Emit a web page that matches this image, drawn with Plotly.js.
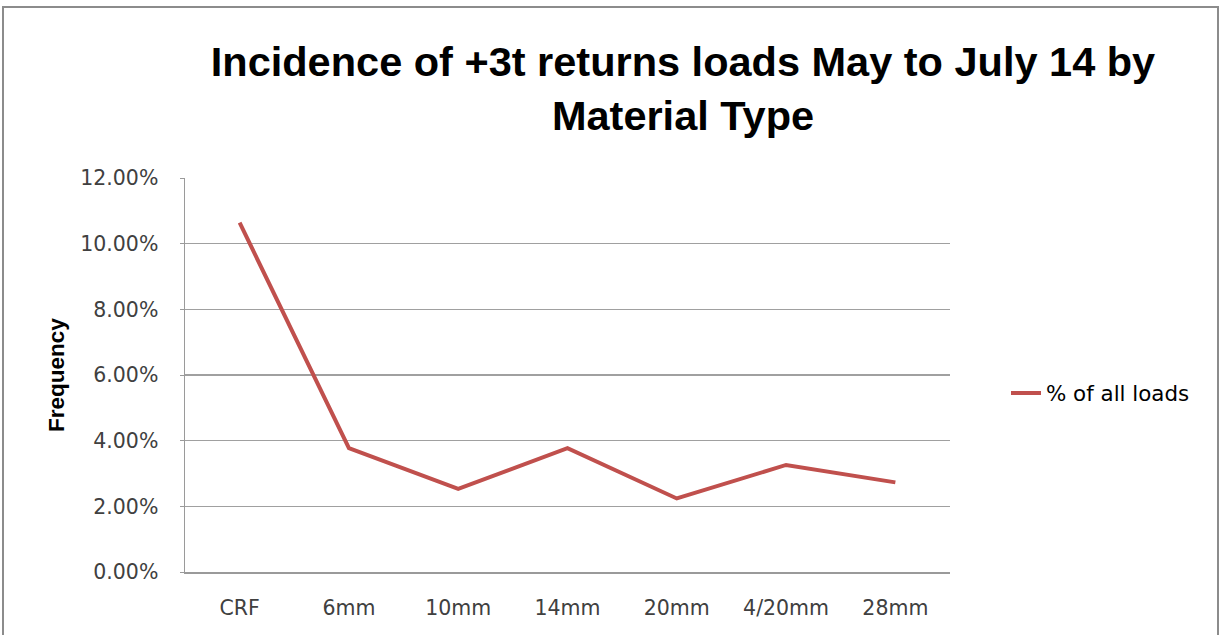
<!DOCTYPE html>
<html>
<head>
<meta charset="utf-8">
<script src="https://cdn.plot.ly/plotly-3.0.1.min.js"></script>
<style>html,body{margin:0;padding:0;background:#fff;}#chart{width:1221px;height:635px;}</style>
</head>
<body>
<div id="chart"></div>
<script>
const categories = ["CRF", "6mm", "10mm", "14mm", "20mm", "4/20mm", "28mm"];
const pctAllLoads = [0.1064, 0.0377, 0.0253, 0.0377, 0.0224, 0.0326, 0.0273];
const seriesName = "% of all loads";
const yTickVals = [0, 0.02, 0.04, 0.06, 0.08, 0.10, 0.12];

const W = 1221, H = 635;
const L = 185, R = 950, T = 178, B = 572;
const pw = R - L, ph = B - T;
const px = v => (v - L) / pw;
const py = v => (B - v) / ph;

const trace = {
  x: categories,
  y: pctAllLoads,
  type: "scatter",
  mode: "lines",
  name: seriesName,
  line: {color: "#C0504D", width: 4}
};

const tickFont = {family: "DejaVu Sans, sans-serif", size: 20.5, color: "#404040"};

const layout = {
  width: W, height: H,
  margin: {l: L, r: W - R, t: T, b: H - B, pad: 0},
  paper_bgcolor: "#ffffff",
  plot_bgcolor: "#ffffff",
  showlegend: true,
  title: {
    text: "Incidence of +3t returns loads May to July 14 by<br>Material Type",
    font: {family: "Liberation Sans, Arial, sans-serif", size: 41.5, color: "#000000", weight: "bold"},
    xref: "container", yref: "container",
    x: 683 / W, xanchor: "center",
    y: 1 - 76 / H, yanchor: "top"
  },
  xaxis: {
    type: "category",
    range: [-0.5, categories.length - 0.5],
    showgrid: false,
    showline: true, linecolor: "#9a9a9a", linewidth: 1.5,
    ticks: "", ticklabelstandoff: 17,
    tickfont: tickFont,
    zeroline: false, fixedrange: true
  },
  yaxis: {
    range: [0, 0.12],
    tickvals: yTickVals,
    tickformat: ".2%",
    showgrid: true, gridcolor: "#a0a0a0", gridwidth: 1.5,
    showline: true, linecolor: "#9a9a9a", linewidth: 1.5,
    ticks: "outside", ticklen: 4, tickcolor: "#9a9a9a",
    ticklabelstandoff: 17,
    tickfont: tickFont,
    zeroline: false, fixedrange: true,
    title: {text: "Frequency", standoff: 9,
      font: {family: "Liberation Sans, Arial, sans-serif", size: 22.5, color: "#000000", weight: "bold"}}
  },
  legend: {
    x: px(1006), xanchor: "left",
    y: py(393), yanchor: "middle",
    font: {family: "DejaVu Sans, sans-serif", size: 21.4, color: "#000000"},
    bgcolor: "rgba(0,0,0,0)", borderwidth: 0
  },
  shapes: [{
    type: "rect", xref: "paper", yref: "paper",
    x0: px(3), x1: px(1218), y0: py(645), y1: py(7),
    line: {color: "#8c8c8c", width: 2}, fillcolor: "rgba(0,0,0,0)", layer: "below"
  }]
};

Plotly.newPlot("chart", [trace], layout, {displayModeBar: false, staticPlot: true});
</script>
</body>
</html>
